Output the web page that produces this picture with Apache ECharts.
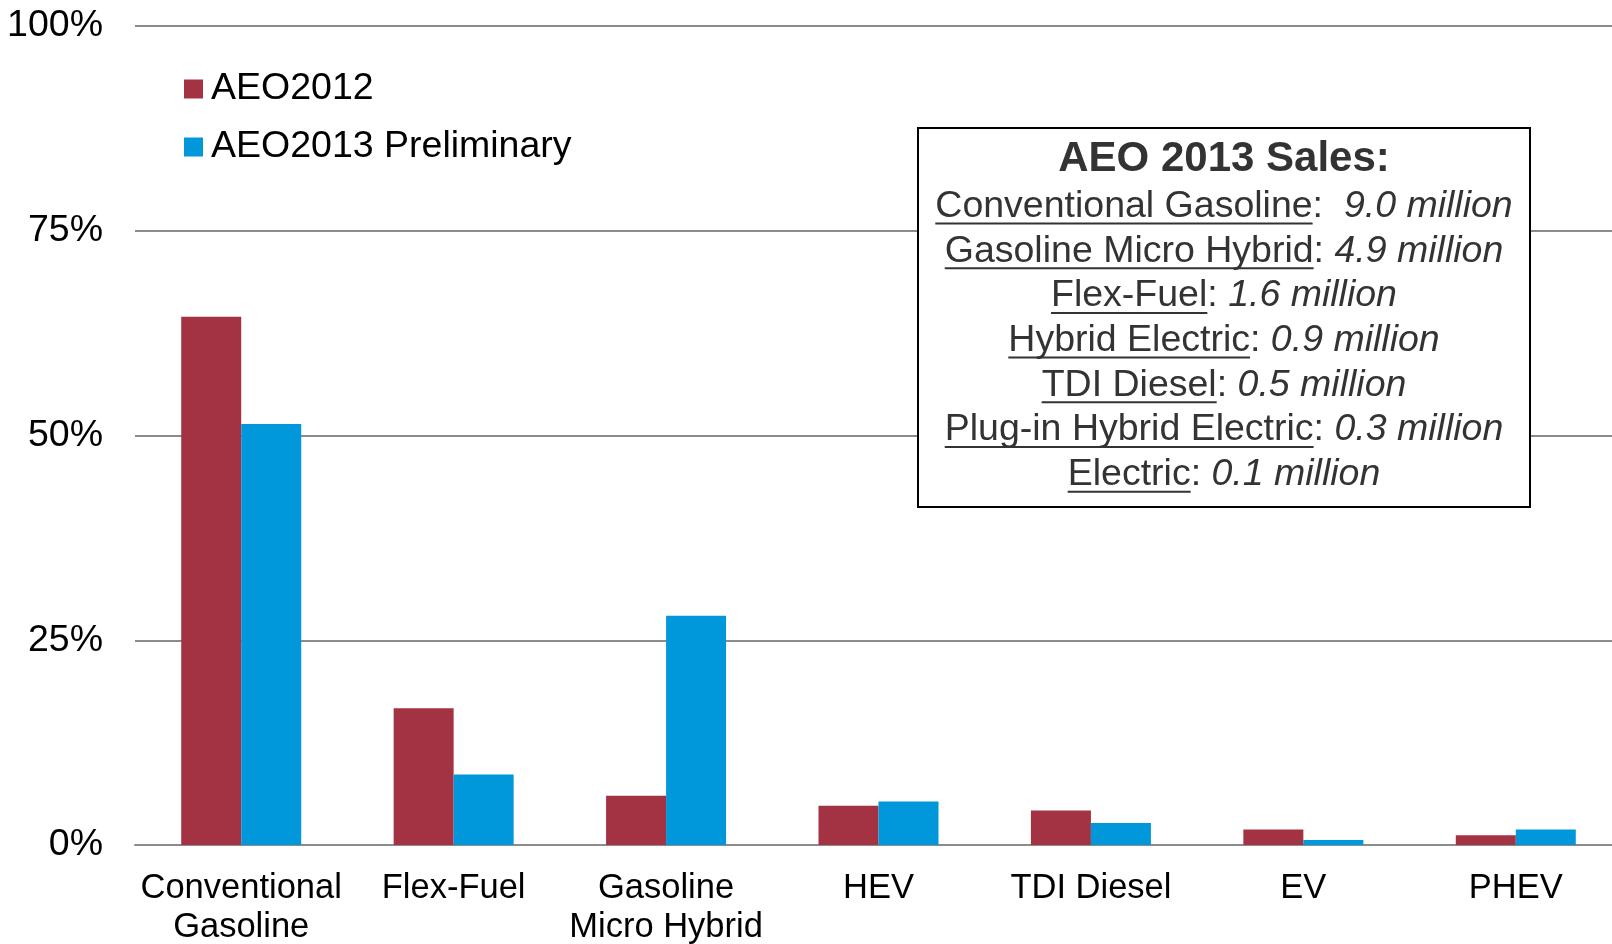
<!DOCTYPE html>
<html>
<head>
<meta charset="utf-8">
<title>AEO vehicle sales share</title>
<script src="https://cdn.jsdelivr.net/npm/echarts@6/dist/echarts.min.js"></script>
<style>
  html, body { margin: 0; padding: 0; background: #fff; }
  #chart { width: 1612px; height: 944px; }
</style>
</head>
<body>
<div id="chart"></div>
<script>
// categories on the x axis
const categories = ['Conventional\nGasoline', 'Flex-Fuel', 'Gasoline\nMicro Hybrid', 'HEV', 'TDI Diesel', 'EV', 'PHEV'];
// share of sales, percent
const aeo2012 = [64.5, 16.7, 6.0, 4.8, 4.2, 1.9, 1.2];
const aeo2013 = [51.4, 8.6, 28.0, 5.3, 2.7, 0.6, 1.9];
const yTicks = [0, 25, 50, 75, 100];

// text box
const boxTitle = 'AEO 2013 Sales:';
const boxNames = ['Conventional Gasoline', 'Gasoline Micro Hybrid', 'Flex-Fuel', 'Hybrid Electric', 'TDI Diesel', 'Plug-in Hybrid Electric', 'Electric'];
const boxSeps = [':  ', ': ', ': ', ': ', ': ', ': ', ': '];
const boxSales = ['9.0', '4.9', '1.6', '0.9', '0.5', '0.3', '0.1'];

const FONT = '"Liberation Sans", Arial, sans-serif';
const BOX_FS = 37.5;

let chart = echarts.init(document.getElementById('chart'));

// measure text to place the underlines
const ctx = document.createElement('canvas').getContext('2d');
function textW(str, italic) {
  ctx.font = (italic ? 'italic ' : '') + BOX_FS + 'px ' + FONT;
  return ctx.measureText(str).width;
}

const boxX = 918, boxY = 128, boxW = 612, boxH = 379;
const cx = boxX + boxW / 2;
const graphics = [
  {
    type: 'rect',
    shape: { x: boxX, y: boxY, width: boxW, height: boxH },
    style: { fill: '#fff', stroke: '#000', lineWidth: 2 },
    z: 100
  },
  {
    type: 'text',
    style: {
      text: boxTitle, x: cx, y: 159, align: 'center', verticalAlign: 'middle',
      font: 'bold 42px ' + FONT, fill: '#333'
    },
    z: 101
  }
];
for (let i = 0; i < boxNames.length; i++) {
  const y = 206.5 + i * 44.7;
  const wu = textW(boxNames[i], false);
  const total = wu + textW(boxSeps[i], false) + textW(boxSales[i] + ' million', true);
  const x0 = cx - total / 2;
  graphics.push({
    type: 'text',
    style: {
      text: '{u|' + boxNames[i] + '}{n|' + boxSeps[i] + '}{i|' + boxSales[i] + ' million}',
      x: x0, y: y, align: 'left', verticalAlign: 'middle',
      rich: {
        u: { fontSize: BOX_FS, fontFamily: FONT, fill: '#333', color: '#333' },
        n: { fontSize: BOX_FS, fontFamily: FONT, fill: '#333', color: '#333' },
        i: { fontSize: BOX_FS, fontFamily: FONT, fontStyle: 'italic', fill: '#333', color: '#333' }
      }
    },
    z: 101
  });
  graphics.push({
    type: 'line',
    shape: { x1: x0, y1: y + 17, x2: x0 + wu, y2: y + 17 },
    style: { stroke: '#333', lineWidth: 2 },
    z: 101
  });
}

const gridColor = '#8c8c8c';
const option = {
  animation: false,
  // plot area runs a little past the right edge, as in the original
  grid: { left: 135, right: -10, top: 26, bottom: 99, outerBoundsMode: 'none', containLabel: false },
  legend: {
    orient: 'vertical',
    left: 184,
    top: 69,
    padding: 0,
    icon: 'rect',
    itemWidth: 19,
    itemHeight: 19,
    itemGap: 18,
    textStyle: { fontSize: 37.5, fontFamily: FONT, color: '#000', lineHeight: 40, padding: [0, 0, 0, 3] },
    data: ['AEO2012', 'AEO2013 Preliminary']
  },
  xAxis: {
    type: 'category',
    data: categories,
    axisLine: { lineStyle: { color: gridColor, width: 2 } },
    axisTick: { length: 9, lineStyle: { color: gridColor, width: 2 } },
    axisLabel: { interval: 0, fontSize: 34.5, fontFamily: FONT, color: '#000', lineHeight: 39, margin: 24 }
  },
  yAxis: {
    type: 'value',
    min: yTicks[0],
    max: yTicks[yTicks.length - 1],
    interval: yTicks[1] - yTicks[0],
    axisLine: { show: false },
    axisTick: { show: false },
    axisLabel: { formatter: '{value}%', fontSize: 37.5, fontFamily: FONT, color: '#000', margin: 32, padding: [10, 0, 0, 0] },
    splitLine: { lineStyle: { color: gridColor, width: 2 } }
  },
  series: [
    {
      name: 'AEO2012',
      type: 'bar',
      data: aeo2012,
      barWidth: 60,
      barGap: '0%',
      itemStyle: { color: '#A33343' }
    },
    {
      name: 'AEO2013 Preliminary',
      type: 'bar',
      data: aeo2013,
      barWidth: 60,
      barGap: '0%',
      itemStyle: { color: '#0098DA' }
    }
  ],
  graphic: graphics
};
chart.setOption(option);
</script>
</body>
</html>
